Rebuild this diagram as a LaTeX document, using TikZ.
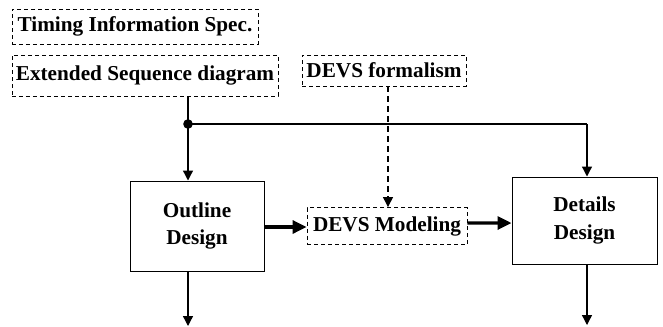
\documentclass[tikz,border=0pt]{standalone}
\usepackage{fontspec}
\setmainfont{Liberation Serif}
\usetikzlibrary{arrows.meta,calc}
\begin{document}
\begin{tikzpicture}[x=1bp,y=-1bp,
  lbl/.style={font=\fontsize{21.3}{24}\selectfont\bfseries, inner sep=0pt, align=center},
  dbox/.style={lbl, draw, dash pattern=on 4bp off 3bp, line width=0.9bp, rectangle},
  sbox/.style={lbl, draw, line width=1bp, rectangle},
  arr/.style={-{Triangle[width=10bp,length=10bp]}, line width=1.3bp},
  thick arr/.style={-{Triangle[width=13bp,length=14bp]}, line width=3.2bp},
  dash arr/.style={arr, dash pattern=on 6bp off 4bp}
]
\useasboundingbox (0,0) rectangle (663,326);
\node[dbox, minimum width=246bp, minimum height=35bp] (timing) at (135,26.5) {Timing Information Spec.};
\node[dbox, minimum width=266bp, minimum height=41bp] (ext) at (145,75.5) {Extended Sequence diagram};
\node[dbox, minimum width=164bp, minimum height=31bp] (form) at (384,70.5) {DEVS formalism};
\node[sbox, minimum width=134bp, minimum height=90bp] (outline) at (197,226) {Outline\\[4bp]Design};
\node[dbox, minimum width=160bp, minimum height=37bp] (model) at (387,226) {DEVS Modeling};
\node[sbox, minimum width=145bp, minimum height=87bp] (details) at (584.5,220.5) {Details\\[4bp]Design};
\coordinate (dot) at (188,124);
\coordinate (outend) at (188,326);
\coordinate (corner) at (587,124);
\coordinate (detend) at (587,325);
\fill (dot) circle (4.8bp);
\draw[line width=1.3bp] (dot |- ext.south) -- (dot);
\draw[arr] (dot) -- (dot |- outline.north);
\draw[line width=1.3bp] (dot) -- (corner);
\draw[arr] (corner) -- (corner |- details.north);
\draw[arr] (outline.south -| dot) -- (outend);
\draw[arr] (details.south -| corner) -- (detend);
\draw[dash arr] (388,86) coordinate (fs) (form.south -| fs) -- (fs |- model.north);
\draw[thick arr] ($(outline.east)+(0,1)$) -- ($(model.west)+(0,1)$);
\draw[thick arr] ($(model.east)+(0,-3)$) -- ($(details.west)+(0,2.5)$);
\end{tikzpicture}
\end{document}
